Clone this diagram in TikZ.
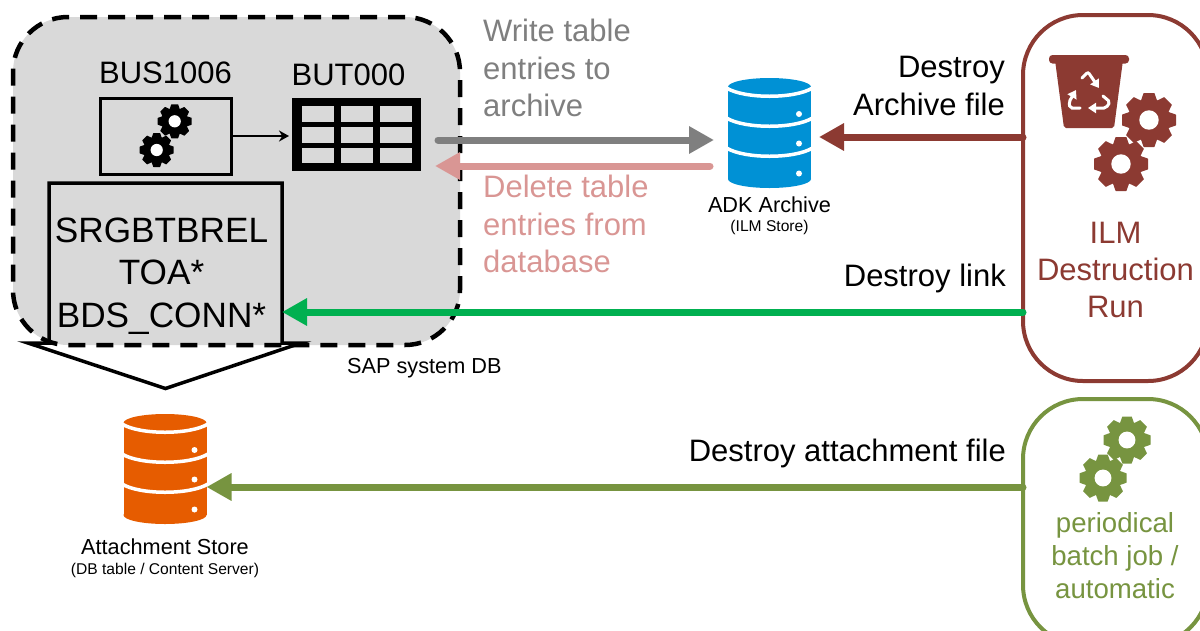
\documentclass[tikz,border=0pt]{standalone}
\usepackage{fontspec}
\setmainfont{Liberation Sans}
\usetikzlibrary{arrows.meta,positioning}

\definecolor{ilmred}{HTML}{8C3A32}
\definecolor{jobgreen}{HTML}{779440}
\definecolor{linkgreen}{HTML}{00B050}
\definecolor{adkblue}{HTML}{0091D5}
\definecolor{storeorange}{HTML}{E65C00}
\definecolor{writegray}{HTML}{7F7F7F}
\definecolor{deletepink}{HTML}{D99694}
\definecolor{dbgray}{HTML}{D9D9D9}

\newcommand{\txt}[1]{\fontsize{#1}{1.2\dimexpr#1pt\relax}\selectfont}

% #1 centre, #2 radius, #3 colour
\newcommand{\gearicon}[3]{
  \begin{scope}[shift={#1},scale=#2]
    \fill[#3] (0,0) circle (0.78);
    \foreach \a in {0,45,...,315}
      \fill[#3,rotate=\a,rounded corners=0.3pt] (-0.34,0.6) -- (-0.2,1) -- (0.2,1) -- (0.34,0.6) -- cycle;
    \fill[white] (0,0) circle (0.36);
  \end{scope}
}

% #1 centre, #2 colour
\newcommand{\dbicon}[2]{
  \begin{scope}[shift={#1}]
    \fill[#2] (-41.5,-46) rectangle (41.5,46);
    \fill[#2] (0,-46) ellipse (41.5 and 9);
    \fill[#2] (0,46) ellipse (41.5 and 9);
    \foreach \y in {-45,-15,15}
      \draw[white,line width=3.5] (-43,\y) .. controls (-25,\y+11) and (25,\y+11) .. (43,\y);
    \foreach \y in {-19,10.5,40.5}
      \fill[white] (29.5,\y) circle (3);
  \end{scope}
}

\begin{document}
\begin{tikzpicture}[x=1pt,y=-1pt,>=Stealth]
  \tikzstyle{box}=[rectangle,inner sep=0,outer sep=0]
  \tikzstyle{outline}=[box,draw=black,line width=3]
  \tikzstyle{run}=[box,fill=white,line width=4,rounded corners=60,minimum width=185]
  \tikzstyle{dbnode}=[box,minimum width=83,minimum height=128]
  \tikzstyle{flow}=[line width=7,line cap=round,-{Triangle[length=25,width=26]}]
  \tikzstyle{bintip}=[white,line width=3,line cap=round,rounded corners=2,-{Triangle[length=8,width=10]}]
  \tikzstyle{big}=[inner sep=0,align=center,font=\txt{31}]
  \tikzstyle{small}=[inner sep=0,align=center,font=\txt{21.7}]
  \useasboundingbox (0,0) rectangle (1200,630);

  % SAP system
  \node [box,fill=dbgray,draw=black,line width=4.5,dash pattern=on 17pt off 11pt,rounded corners=55,minimum width=447,minimum height=328] (sapdb) at (236.5,181) {};
  \node [small,anchor=west] (saplabel) at (347,368) {SAP system DB};

  \node [outline,minimum width=131,minimum height=76] (bus) at (165.5,136) {};
  \node [big,above=14pt of bus.north] (buslabel) {BUS1006};
  \gearicon{(174.7,121.3)}{17}{black}
  \gearicon{(156.7,150)}{17}{black}

  \node [box,fill=black,minimum width=129,minimum height=73] (but) at (356.5,134.5) {};
  \node [big,above=12pt of but.north,xshift=-8pt] (butlabel) {BUT000};
  \foreach \x in {318,356.7,395.7}
    \foreach \y in {114,134.8,155.5}
      \fill[dbgray] (\x-16,\y-7.8) rectangle (\x+16,\y+7.8);

  \draw[line width=2,-{Stealth[length=10,width=11]},shorten >=3pt] (bus.east) -- (but.west |- bus.east);

  % tables and the arrow down to the store
  \node [box,font=\txt{35.2},align=center,minimum width=225,minimum height=134] (tables) at (161.5,276) {SRGBTBREL\\TOA*\\BDS\_CONN*};
  \coordinate (tablesedge) at ([xshift=8pt]tables.south east);
  \draw[line width=3.5,miter limit=20] (tables.south west) -- (tables.west |- 0,183) -- (tablesedge |- 0,183) -- (tablesedge) -- ++(19,0) -- (165.5,388.5) -- (28,343) -- cycle;

  % stores
  \node [dbnode] (adk) at (769.5,133) {};
  \dbicon{(adk)}{adkblue}
  \node [small,below=0pt of adk] (adklabel) {ADK Archive\\[-7pt]{\txt{15.6}(ILM Store)}};

  \node [dbnode] (store) at (165,469) {};
  \dbicon{(store)}{storeorange}
  \node [small,below=6pt of store] (storelabel) {Attachment Store\\[-6pt]{\txt{15.6}(DB table / Content Server)}};

  % runs
  \node [run,draw=ilmred,minimum height=366] (ilm) at (1115.5,198) {};
  \node [big,text=ilmred,below=207pt of ilm.north] (ilmlabel) {ILM\\Destruction\\Run};
  \node [run,draw=jobgreen,minimum height=246] (batch) at (1115.5,522) {};
  \node [inner sep=0,align=center,font=\txt{27.6},text=jobgreen] (batchlabel) at (1115,556) {periodical\\batch job /\\automatic};

  % bin with recycling arrows
  \fill[ilmred,rounded corners=2] (1055,60) -- (1064,128) -- (1114,128) -- (1123,60) -- cycle;
  \fill[ilmred,rounded corners=3.5] (1049,55) rectangle (1129,63.5);
  \draw[bintip] (1082,78) -- (1088,72) -- (1099,88);
  \draw[bintip] (1080,108) -- (1070,108) -- (1069,102) -- (1076,90);
  \draw[bintip] (1103,96) -- (1110,102) -- (1106,108) -- (1088,108);
  \gearicon{(1149,120)}{27}{ilmred}
  \gearicon{(1121,164)}{27}{ilmred}

  \gearicon{(1127,440)}{23.5}{jobgreen}
  \gearicon{(1103,478)}{23.5}{jobgreen}

  % flows
  \draw[flow,writegray] ([xshift=17pt]but.east |- 0,140) -- ([xshift=-14pt]adk.west |- 0,140);
  \draw[flow,deletepink] ([xshift=-18pt]adk.west |- 0,166) -- ([xshift=14pt]but.east |- 0,166);
  \draw[flow,ilmred] (ilm.west |- 0,137) -- ([xshift=8pt]adk.east |- 0,137);
  \draw[flow,linkgreen] (ilm.west |- 0,312) -- (tablesedge |- 0,312);
  \draw[flow,jobgreen] (batch.west |- 0,487) -- (store.east |- 0,487);

  \node [big,text=writegray,align=left,anchor=west] (writelabel) at (483,68) {Write table\\entries to\\archive};
  \node [big,text=deletepink,align=left,anchor=west] (deletelabel) at (483,224) {Delete table\\entries from\\database};
  \node [big,align=right,anchor=east] (archivelabel) at (1005,86) {Destroy\\Archive file};
  \node [big,anchor=east] (linklabel) at (1006,278) {Destroy link};
  \node [big,anchor=east] (filelabel) at (1006,453) {Destroy attachment file};
\end{tikzpicture}
\end{document}
